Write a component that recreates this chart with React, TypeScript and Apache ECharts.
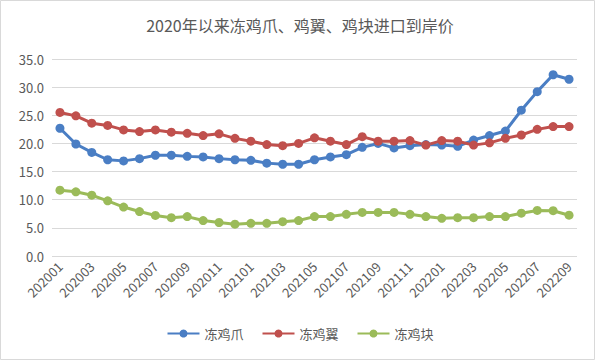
import React, { useEffect, useRef } from "react";
import * as echarts from "echarts";

const categories = [
  "202001","202002","202003","202004","202005","202006","202007","202008","202009","202010","202011","202012",
  "202101","202102","202103","202104","202105","202106","202107","202108","202109","202110","202111","202112",
  "202201","202202","202203","202204","202205","202206","202207","202208","202209",
];

const chickenFeet = [
  22.7, 19.9, 18.4, 17.1, 16.9, 17.3, 17.9, 17.9, 17.7, 17.6, 17.3, 17.1,
  17.0, 16.5, 16.3, 16.3, 17.1, 17.6, 18.0, 19.3, 20.0, 19.2, 19.6, 19.8,
  19.7, 19.5, 20.6, 21.4, 22.2, 25.9, 29.2, 32.2, 31.4,
];

const chickenWings = [
  25.5, 24.9, 23.6, 23.2, 22.4, 22.1, 22.4, 22.0, 21.8, 21.4, 21.7, 20.9,
  20.4, 19.8, 19.6, 20.0, 21.0, 20.4, 19.8, 21.2, 20.4, 20.4, 20.5, 19.7,
  20.5, 20.4, 19.7, 20.1, 20.9, 21.5, 22.5, 23.0, 23.0,
];

const chickenNuggets = [
  11.7, 11.4, 10.8, 9.8, 8.7, 7.9, 7.2, 6.8, 7.0, 6.3, 5.95, 5.65,
  5.8, 5.8, 6.1, 6.3, 7.0, 7.0, 7.4, 7.75, 7.75, 7.75, 7.4, 7.0,
  6.7, 6.8, 6.8, 7.0, 7.0, 7.6, 8.1, 8.05, 7.25,
];

const seriesNames = ["冻鸡爪", "冻鸡翼", "冻鸡块"];
const colors = ["#4A7EC4", "#C0504D", "#9BBB59"];

export default function App() {
  const ref = useRef<HTMLDivElement>(null);
  useEffect(() => {
    if (!ref.current) return;
    const chart = echarts.init(ref.current, null, { renderer: "svg" });
    const font = "'Noto Sans CJK SC', 'Noto Sans', sans-serif";
    const mk = (name: string, data: number[], color: string) => ({
      name,
      type: "line",
      data,
      symbol: "circle",
      symbolSize: 9,
      lineStyle: { width: 3, color },
      itemStyle: { color },
    });
    chart.setOption({
      animation: false,
      backgroundColor: "#ffffff",
      textStyle: { fontFamily: font },
      title: {
        text: "2020年以来冻鸡爪、鸡翼、鸡块进口到岸价",
        left: "center",
        top: 12,
        textStyle: { fontSize: 16, fontWeight: "normal", color: "#595959", fontFamily: font },
      },
      legend: {
        bottom: 16,
        left: "center",
        itemWidth: 32,
        itemHeight: 10,
        itemGap: 18,
        textStyle: { fontSize: 13, color: "#595959", fontFamily: font },
        data: seriesNames,
      },
      grid: { left: 52, right: 23, top: 59, bottom: 105, containLabel: false },
      xAxis: {
        type: "category",
        data: categories,
        boundaryGap: true,
        axisLine: { show: false },
        axisTick: { show: false },
        axisLabel: { interval: 1, rotate: 45, fontSize: 13, color: "#595959", margin: 8 },
      },
      yAxis: {
        type: "value",
        min: 0,
        max: 35,
        interval: 5,
        axisLine: { show: false },
        axisTick: { show: false },
        axisLabel: { formatter: (v: number) => v.toFixed(1), fontSize: 13, color: "#595959", margin: 8 },
        splitLine: { lineStyle: { color: "#D9D9D9", width: 1 } },
      },
      graphic: [
        {
          type: "rect",
          shape: { x: 0.5, y: 0.5, width: 594, height: 359 },
          style: { fill: "none", stroke: "#D9D9D9", lineWidth: 1 },
          silent: true,
        },
      ],
      series: [
        mk(seriesNames[0], chickenFeet, colors[0]),
        mk(seriesNames[1], chickenWings, colors[1]),
        mk(seriesNames[2], chickenNuggets, colors[2]),
      ],
    });
    return () => chart.dispose();
  }, []);
  return (
    <div
      ref={ref}
      style={{ position: "fixed", left: 0, top: 0, width: 600, height: 361 }}
    />
  );
}
